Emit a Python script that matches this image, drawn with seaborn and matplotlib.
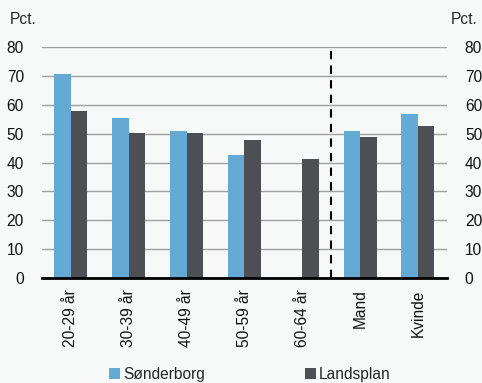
import numpy as np
import pandas as pd
import seaborn as sns
import matplotlib.pyplot as plt

categories = ['20-29 år', '30-39 år', '40-49 år', '50-59 år', '60-64 år', 'Mand', 'Kvinde']
soenderborg = [70.8, 55.5, 50.8, 42.5, np.nan, 50.8, 56.8]
landsplan = [58.0, 50.3, 50.3, 47.8, 41.3, 48.7, 52.7]
series = ['Sønderborg', 'Landsplan']

df = pd.DataFrame({
    'kategori': categories * 2,
    'serie': [series[0]] * len(categories) + [series[1]] * len(categories),
    'pct': soenderborg + landsplan,
})

sns.set_style('white')
plt.rcParams['font.family'] = ['Liberation Sans', 'DejaVu Sans']
fs = 11.2
bg = '#f7f8f8'

fig = plt.figure(figsize=(4.82, 3.83), dpi=100, facecolor=bg)
ax = fig.add_axes([0.087, 0.274, 0.84, 0.603])
ax.set_facecolor(bg)

sns.barplot(data=df, x='kategori', y='pct', hue='serie', order=categories,
            hue_order=series, palette=['#63aad4', '#4e4f54'], width=0.57,
            gap=0, saturation=1, linewidth=0, ax=ax, zorder=3)

ax.set_ylim(0, 80)
ax.set_xlim(-0.5, len(categories) - 0.5)
ax.set_yticks(range(0, 81, 10))
ax.yaxis.grid(True, color='#a0a0a0', linewidth=1, zorder=0)
ax.set_axisbelow(True)
for s in ['top', 'right', 'left']:
    ax.spines[s].set_visible(False)
ax.spines['bottom'].set_color('black')
ax.spines['bottom'].set_linewidth(2)
ax.spines['bottom'].set_zorder(5)

ax.tick_params(axis='y', length=0, pad=13, labelsize=fs, labelcolor='#111111',
               left=True, right=True, labelleft=True, labelright=True)
ax.set_xticks(range(len(categories)))
ax.set_xticklabels(categories, rotation=90, fontsize=fs, color='#111111')
ax.tick_params(axis='x', which='major', length=0, pad=8)
ax.set_xticks(np.arange(-0.5, len(categories), 1), minor=True)
ax.tick_params(axis='x', which='minor', length=5, width=1.5, color='black',
               direction='out')
ax.set_xlabel('')
ax.set_ylabel('')

ax.plot([4.5, 4.5], [0, 80], color='black', linestyle=(0, (4, 3)),
        linewidth=1.5, zorder=4, clip_on=False)

handles, labels = ax.get_legend_handles_labels()
ax.get_legend().remove()
fig.legend(handles, labels, loc='center', bbox_to_anchor=(250 / 482, 1 - 374 / 383),
           ncol=2, frameon=False, fontsize=fs, handlelength=0.7, handleheight=0.7,
           handletextpad=0.2, columnspacing=6.4, borderaxespad=0)

fig.text(10 / 482, 1 - 20 / 383, 'Pct.', fontsize=fs, ha='left', va='center')
fig.text(478 / 482, 1 - 20 / 383, 'Pct.', fontsize=fs, ha='right', va='center')

fig.savefig('out.png', dpi=100, facecolor=bg)
